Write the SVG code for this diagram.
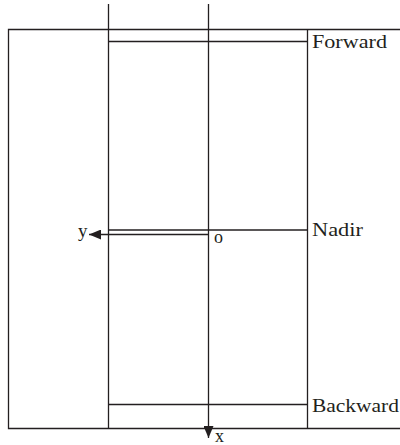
<svg xmlns="http://www.w3.org/2000/svg" width="400" height="445" viewBox="0 0 400 445">
<style>
.ln{stroke:#231f20;stroke-width:1.3;fill:none}
.t{font-family:"Liberation Serif","DejaVu Serif",serif;fill:#231f20}
</style>
<defs>
<marker id="ah" viewBox="0 0 12 10" refX="12" refY="5" markerWidth="12" markerHeight="10" markerUnits="userSpaceOnUse" orient="auto">
<path d="M0,0 L12,5 L0,10 Z" fill="#231f20"/>
</marker>
</defs>
<rect width="400" height="445" fill="#fff"/>
<g id="frame">
<path class="ln" d="M401,29.5 H8.5 V428.5 H401"/>
<line class="ln" x1="108.5" y1="4" x2="108.5" y2="428.5"/>
<line class="ln" x1="307.5" y1="29.5" x2="307.5" y2="428.5"/>
</g>
<g id="forward">
<line class="ln" x1="108.5" y1="41.5" x2="307.5" y2="41.5"/>
<text class="t" x="312" y="48" font-size="19" textLength="75" lengthAdjust="spacingAndGlyphs">Forward</text>
</g>
<g id="nadir">
<line class="ln" x1="108.5" y1="230" x2="307.5" y2="230"/>
<text class="t" x="312" y="236" font-size="19" textLength="51" lengthAdjust="spacingAndGlyphs">Nadir</text>
</g>
<g id="backward">
<line class="ln" x1="108.5" y1="404.5" x2="307.5" y2="404.5"/>
<text class="t" x="312" y="412" font-size="19" textLength="87" lengthAdjust="spacingAndGlyphs">Backward</text>
</g>
<g id="connectors">
<line class="ln" x1="208.5" y1="4" x2="208.5" y2="438" marker-end="url(#ah)"/>
<line class="ln" x1="208.5" y1="234.5" x2="89" y2="234.5" marker-end="url(#ah)"/>
</g>
<g id="labels">
<text class="t" x="78" y="237" font-size="19">y</text>
<text class="t" x="214" y="243" font-size="18">o</text>
<text class="t" x="215" y="442" font-size="18">x</text>
</g>
</svg>
